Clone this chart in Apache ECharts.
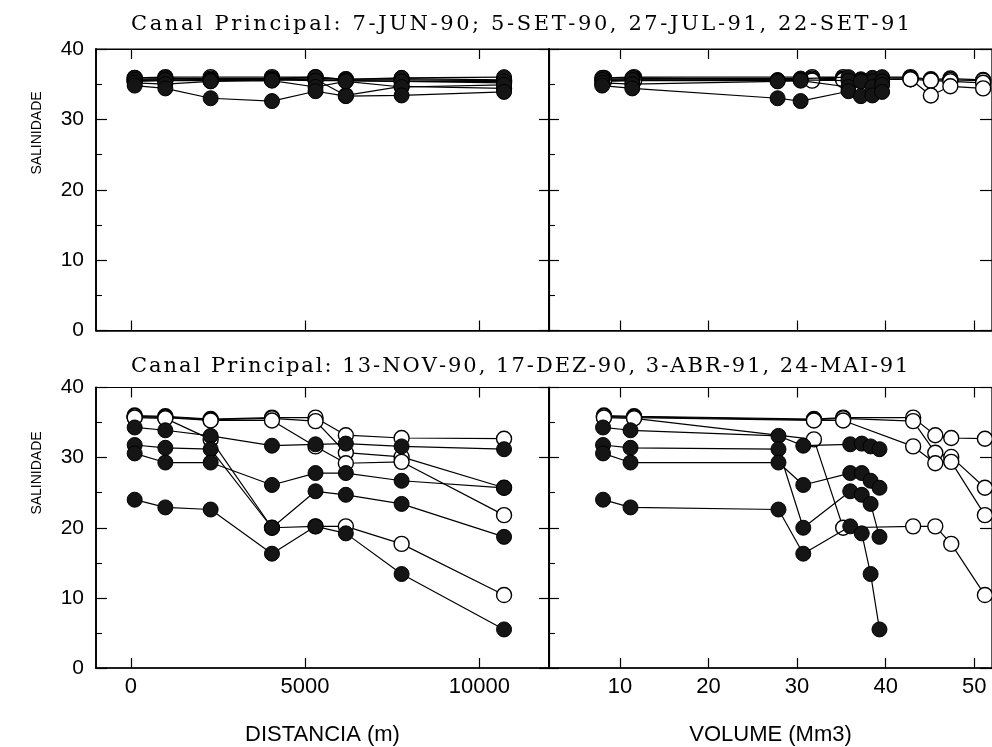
<!DOCTYPE html>
<html>
<head>
<meta charset="utf-8">
<script src="https://cdn.jsdelivr.net/npm/echarts@6/dist/echarts.min.js"></script>
<style>
html,body{margin:0;padding:0;background:#fff}
#chart{width:992px;height:747px}
</style>
</head>
<body>
<div id="chart"></div>
<script>
// estacoes ao longo do canal (m)
var distancia = [110, 990, 2290, 4050, 5300, 6170, 7770, 10710];

// volume acumulado (Mm3) em cada estacao, baixa-mar (cheio) e preia-mar (vazio)
var volBaixaTop = [8.0, 11.4, 27.8, 30.4, 35.8, 37.2, 38.5, 39.6];
var volAltaTop = [8.2, 11.6, 31.7, 35.2, 42.8, 45.1, 47.3, 51.0];
var volBaixaBot = [8.1, 11.2, 27.9, 30.7, 36.0, 37.3, 38.3, 39.3];
var volAltaBot = [8.2, 11.6, 31.9, 35.2, 43.1, 45.6, 47.4, 51.2];

// painel de cima: 7-JUN-90; 5-SET-90, 27-JUL-91, 22-SET-91
var topCheio1 = [35.9, 35.9, 35.6, 35.8, 36.0, 35.7, 35.9, 36.0];
var topCheio2 = [35.6, 35.6, 35.5, 35.6, 35.5, 35.5, 35.4, 35.4];
var topCheio3 = [35.2, 35.0, 35.4, 35.5, 34.6, 35.4, 34.6, 34.9];
var topCheio4 = [34.8, 34.4, 33.0, 32.6, 34.0, 33.3, 33.4, 33.9];
var topVazio1 = [35.9, 36.0, 36.0, 36.0, 36.0, 35.7, 35.8, 35.6];
var topVazio2 = [35.7, 35.8, 35.8, 35.8, 35.9, 35.6, 35.6, 35.5];
var topVazio3 = [35.5, 35.6, 35.6, 35.7, 35.7, 35.5, 35.4, 35.2];
var topVazio4 = [35.4, 35.5, 35.5, 35.6, 35.7, 33.4, 34.7, 34.4];

// painel de baixo: 13-NOV-90, 17-DEZ-90, 3-ABR-91, 24-MAI-91
var botCheio1 = [34.3, 33.9, 33.1, 31.7, 31.9, 32.0, 31.6, 31.2];
var botCheio2 = [31.8, 31.4, 31.2, 20.0, 25.2, 24.7, 23.4, 18.7];
var botCheio3 = [30.6, 29.3, 29.3, 26.1, 27.8, 27.8, 26.7, 25.7];
var botCheio4 = [24.0, 22.9, 22.6, 16.3, 20.2, 19.2, 13.4, 5.5];
var botVazio1 = [36.0, 35.9, 35.5, 35.7, 35.7, 33.2, 32.8, 32.7];
var botVazio2 = [35.8, 35.8, 35.4, 35.6, 35.2, 30.7, 30.1, 25.7];
var botVazio3 = [35.9, 35.7, 35.3, 35.3, 31.6, 29.2, 29.4, 21.8];
var botVazio4 = [35.7, 35.6, 32.6, 20.0, 20.2, 20.2, 17.7, 10.4];

var ticksDist = [0, 5000, 10000];
var ticksVol = [10, 20, 30, 40, 50];

var titulos = [
  'Canal Principal: 7-JUN-90; 5-SET-90, 27-JUL-91, 22-SET-91',
  'Canal Principal: 13-NOV-90, 17-DEZ-90, 3-ABR-91, 24-MAI-91'
];

var sansFont = '"Liberation Sans", Arial, sans-serif';
var serifFont = '"DejaVu Serif", "Liberation Serif", serif';

function pares(xs, ys) {
  var out = [];
  for (var i = 0; i < ys.length; i++) out.push([xs[i], ys[i]]);
  return out;
}

// letras espacadas (o titulo original e bem mais largo)
function espacado(txt) {
  return txt.split('').map(function (ch) { return '{c|' + ch + '}'; }).join('');
}

function titulo(txt, top, gap) {
  return {
    text: espacado(txt),
    left: 126,
    top: top,
    textStyle: {
      fontWeight: 'normal',
      rich: { c: { color: '#000', fontSize: 21, fontWeight: 'normal', fontFamily: serifFont, padding: [0, gap, 0, 0] } }
    }
  };
}

function serie(idx, xs, ys, cheio) {
  return {
    type: 'line',
    xAxisIndex: idx,
    yAxisIndex: idx,
    data: pares(xs, ys),
    symbol: 'circle',
    symbolSize: 15,
    showSymbol: true,
    z: cheio ? 4 : 3,
    lineStyle: { color: '#000', width: 1.2 },
    itemStyle: cheio
      ? { color: '#151515', borderColor: '#000', borderWidth: 1 }
      : { color: '#fff', borderColor: '#000', borderWidth: 1.4 },
    emphasis: { disabled: true },
    animation: false
  };
}

var grids = [
  { left: 96, top: 49, width: 453, height: 281.5 },
  { left: 549, top: 49, width: 447.5, height: 281.5 },
  { left: 96, top: 387.5, width: 453, height: 281.5 },
  { left: 549, top: 387.5, width: 447.5, height: 281.5 }
];
grids.forEach(function (g) {
  g.show = true; g.borderColor = '#000'; g.borderWidth = 1.2; g.backgroundColor = 'transparent';
});

function eixoX(grid, pos, dist, labels, name) {
  return {
    type: 'value',
    gridIndex: grid,
    position: pos,
    min: dist ? -1000 : 2,
    max: dist ? 12000 : 52,
    splitLine: { show: false },
    axisLine: { show: true, onZero: false, lineStyle: { color: '#000', width: pos == 'bottom' ? 1.6 : 1.2 } },
    axisTick: { show: true, inside: true, length: 10, customValues: dist ? ticksDist : ticksVol, lineStyle: { color: '#000', width: 1.2 } },
    axisLabel: {
      show: labels, customValues: dist ? ticksDist : ticksVol,
      formatter: function (v) { return String(v); },
      color: '#000', fontSize: 22, fontFamily: sansFont, margin: 8
    },
    name: name || '',
    nameLocation: 'middle',
    nameGap: 56,
    nameTextStyle: { color: '#000', fontSize: 22, fontFamily: sansFont }
  };
}

function eixoY(grid, pos, labels, len, minor) {
  return {
    type: 'value',
    gridIndex: grid,
    position: pos,
    min: 0,
    max: 40,
    interval: 10,
    splitLine: { show: false },
    axisLine: { show: true, onZero: false, lineStyle: { color: '#000', width: pos == 'left' ? 1.8 : 1.2 } },
    axisTick: { show: true, inside: true, length: len, lineStyle: { color: '#000', width: 1.2 } },
    minorTick: { show: minor, splitNumber: 2, length: 6, lineStyle: { color: '#000', width: 1.1 } },
    minorSplitLine: { show: false },
    axisLabel: { show: labels, color: '#000', fontSize: 21, fontFamily: sansFont, margin: 12 }
  };
}

var xAxes = [
  eixoX(0, 'bottom', true, false),
  eixoX(1, 'bottom', false, false),
  eixoX(2, 'bottom', true, true, 'DISTANCIA (m)'),
  eixoX(3, 'bottom', false, true, 'VOLUME (Mm3)'),
  eixoX(0, 'top', true, false),
  eixoX(1, 'top', false, false),
  eixoX(2, 'top', true, false),
  eixoX(3, 'top', false, false)
];

var yAxes = [
  eixoY(0, 'left', true, 11, true),
  eixoY(1, 'left', false, 10, true),
  eixoY(2, 'left', true, 11, true),
  eixoY(3, 'left', false, 10, true),
  eixoY(0, 'right', false, 10, false),
  eixoY(1, 'right', false, 12, false),
  eixoY(2, 'right', false, 10, false),
  eixoY(3, 'right', false, 12, false)
];

var series = [];
// painel de cima
[topVazio1, topVazio2, topVazio3, topVazio4].forEach(function (s) {
  series.push(serie(0, distancia, s, false));
  series.push(serie(1, volAltaTop, s, false));
});
[topCheio1, topCheio2, topCheio3, topCheio4].forEach(function (s) {
  series.push(serie(0, distancia, s, true));
  series.push(serie(1, volBaixaTop, s, true));
});
// painel de baixo
[botVazio1, botVazio2, botVazio3, botVazio4].forEach(function (s) {
  series.push(serie(2, distancia, s, false));
  series.push(serie(3, volAltaBot, s, false));
});
[botCheio1, botCheio2, botCheio3, botCheio4].forEach(function (s) {
  series.push(serie(2, distancia, s, true));
  series.push(serie(3, volBaixaBot, s, true));
});

// rotulo do eixo y, um pouco acima do meio de cada painel
function salinidade(y) {
  return {
    type: 'text',
    x: 37,
    y: y,
    rotation: Math.PI / 2,
    style: { text: 'SALINIDADE', fill: '#000', fontSize: 14, fontFamily: sansFont, align: 'center', verticalAlign: 'middle' }
  };
}

var chart = echarts.init(document.getElementById('chart'));
chart.setOption({
  backgroundColor: '#fff',
  animation: false,
  title: [
    titulo(titulos[0], 9, 2.6),
    titulo(titulos[1], 351, 2.0)
  ],
  grid: grids,
  xAxis: xAxes,
  yAxis: yAxes,
  graphic: [salinidade(133), salinidade(473)],
  series: series
});
</script>
</body>
</html>
